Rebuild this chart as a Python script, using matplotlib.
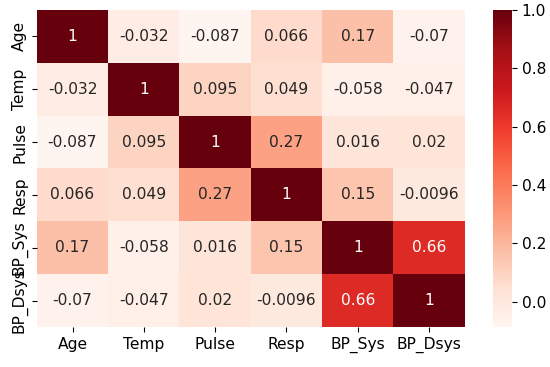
import matplotlib
matplotlib.use("Agg")
import matplotlib.pyplot as plt
import seaborn as sns
import numpy as np
import pandas as pd

labels = ["Age", "Temp", "Pulse", "Resp", "BP_Sys", "BP_Dsys"]
row_age = [1, -0.032, -0.087, 0.066, 0.17, -0.07]
row_temp = [-0.032, 1, 0.095, 0.049, -0.058, -0.047]
row_pulse = [-0.087, 0.095, 1, 0.27, 0.016, 0.02]
row_resp = [0.066, 0.049, 0.27, 1, 0.15, -0.0096]
row_sys = [0.17, -0.058, 0.016, 0.15, 1, 0.66]
row_dsys = [-0.07, -0.047, 0.02, -0.0096, 0.66, 1]

corr = pd.DataFrame([row_age, row_temp, row_pulse, row_resp, row_sys, row_dsys],
                    index=labels, columns=labels)

fs = 11.2
fig = plt.figure(figsize=(5.5, 3.67), dpi=100)
ax = fig.add_axes([0.067, 0.109, 0.778, 0.864])
cax = fig.add_axes([0.896, 0.109, 0.035, 0.864])
sns.heatmap(corr, annot=True, cmap="Reds", ax=ax, cbar_ax=cax,
            annot_kws={"fontsize": fs})
ax.tick_params(labelsize=fs)
plt.setp(ax.get_yticklabels(), rotation=90, va="center")
cax.tick_params(labelsize=fs)
fig.savefig("out.png", dpi=100)
